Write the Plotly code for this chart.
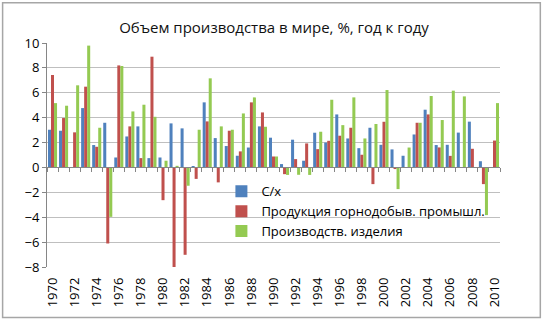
import plotly.graph_objects as go

# Годы и темпы роста (%, год к году)
years = list(range(1970, 2011))

agri = [3.03, 2.95, 0.0, 4.77, 1.80, 3.59, 0.80, 2.49, 3.30, 0.75,
        0.80, 3.54, 3.14, 0.08, 5.23, 2.36, 1.72, 0.94, 1.60, 3.30,
        2.39, 0.27, 2.23, 0.54, 2.79, 2.00, 4.26, 2.33, 1.55, 3.19,
        1.82, 1.45, 0.94, 2.65, 4.64, 1.80, 1.82, 2.80, 3.68, 0.50,
        0.0]

mining = [7.43, 3.97, 2.82, 6.49, 1.66, -6.11, 8.20, 3.30, 0.75, 8.90,
          -2.63, -8.04, -7.02, -0.92, 3.70, -1.20, 2.95, 1.29, 5.23, 4.42,
          0.88, -0.54, 0.67, 1.93, 1.47, 2.14, 2.55, 3.19, 1.02, -1.34,
          3.67, -0.13, 0.0, 3.59, 4.26, 1.61, 0.93, 0.0, 1.50, -1.34,
          2.16]

manuf = [5.17, 4.96, 6.60, 9.79, 3.19, -3.97, 8.15, 4.50, 5.04, 4.07,
         0.54, 0.13, -1.47, 3.03, 7.16, 3.30, 3.03, 4.34, 5.63, 3.27,
         0.88, -0.60, -0.59, -0.60, 2.87, 5.44, 3.40, 5.63, 2.33, 3.49,
         6.22, -1.74, 1.60, 3.59, 5.74, 3.81, 6.17, 5.71, 0.0, -3.83,
         5.17]

series_names = ["С/х", "Продукция горнодобыв. промышл.", "Производств. изделия"]
series_colors = ["#4F81BD", "#C0504D", "#94CA52"]
title_text = "Объем производства в мире, %, год к году"

FONT = "Open Sans, Noto Sans, DejaVu Sans, sans-serif"

fig = go.Figure()
for name, vals, col in zip(series_names, [agri, mining, manuf], series_colors):
    fig.add_trace(go.Bar(x=years, y=vals, name=name, marker_color=col,
                         marker_line_width=0))

# empty trace so the overlaid zero-line axis gets drawn
fig.add_trace(go.Scatter(x=[], y=[], xaxis="x2", showlegend=False,
                         hoverinfo="skip"))

y_min, y_max = -8, 10

fig.update_layout(
    width=548, height=323,
    margin=dict(l=47, r=48, t=43, b=56),
    paper_bgcolor="white", plot_bgcolor="white",
    font=dict(family=FONT, color="#000000", size=12),
    title=dict(text=title_text, x=0.5, xanchor="center", y=0.915,
               yanchor="middle", font=dict(size=15, family=FONT, color="#111111")),
    barmode="group", bargap=0.18, bargroupgap=0,
    showlegend=True,
    legend=dict(x=0.385, y=0.405, xanchor="left", yanchor="top",
                bgcolor="rgba(0,0,0,0)", font=dict(size=13, family=FONT),
                itemwidth=30, tracegroupgap=0),
    xaxis=dict(range=[1969.5, 2010.5], tick0=1970, dtick=2,
               tickangle=-90, showgrid=False, zeroline=False,
               showline=False, ticks="", ticklabelstandoff=7,
               tickfont=dict(size=13)),
    xaxis2=dict(overlaying="x", anchor="free",
                position=(0 - y_min) / (y_max - y_min),
                range=[1969.5, 2010.5], tick0=1969.5, dtick=1,
                showline=True, linecolor="#868686", linewidth=1,
                ticks="outside", ticklen=4, tickcolor="#868686",
                showticklabels=False, showgrid=False, zeroline=False),
    yaxis=dict(range=[y_min, y_max], dtick=2, showgrid=True,
               gridcolor="#BFBFBF", gridwidth=1, zeroline=False,
               showline=True, linecolor="#868686", linewidth=1,
               ticks="outside", ticklen=4, tickcolor="#868686",
               tickfont=dict(size=13)),
    shapes=[dict(type="rect", xref="paper", yref="paper",
                 x0=-0.098, x1=1.089, y0=-0.226, y1=1.18,
                 line=dict(color="#A6A6A6", width=1.5),
                 fillcolor="rgba(0,0,0,0)", layer="below")],
)

fig.write_html("out.html")
